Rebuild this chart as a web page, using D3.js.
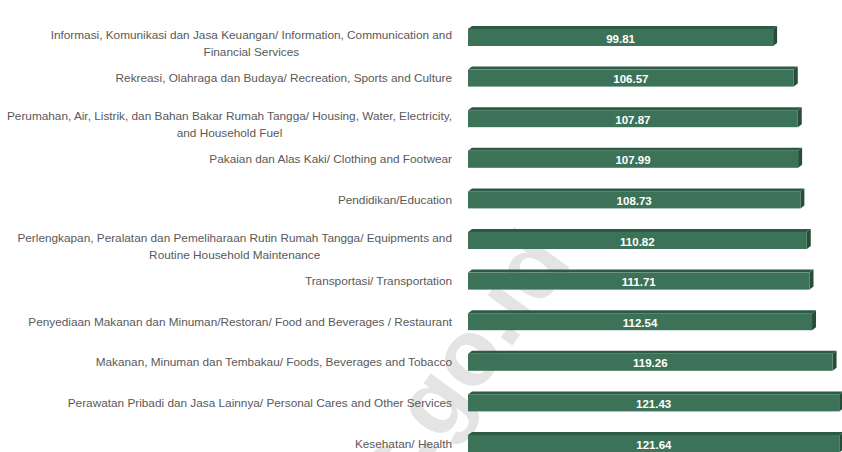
<!DOCTYPE html>
<html>
<head>
<meta charset="utf-8">
<script src="https://cdn.jsdelivr.net/npm/d3@7"></script>
<style>
  body { margin: 0; background: #fff; }
  svg { display: block; }
</style>
</head>
<body>
<div id="chart"></div>
<script>
// categories (line breaks as wrapped in the original chart)
const categories = [
  "Informasi, Komunikasi dan Jasa Keuangan/ Information, Communication and\nFinancial Services",
  "Rekreasi, Olahraga dan Budaya/ Recreation, Sports and Culture",
  "Perumahan, Air, Listrik, dan Bahan Bakar Rumah Tangga/ Housing, Water, Electricity,\nand Household Fuel",
  "Pakaian dan Alas Kaki/ Clothing and Footwear",
  "Pendidikan/Education",
  "Perlengkapan, Peralatan dan Pemeliharaan Rutin Rumah Tangga/ Equipments and\nRoutine Household Maintenance",
  "Transportasi/ Transportation",
  "Penyediaan Makanan dan Minuman/Restoran/ Food and Beverages / Restaurant",
  "Makanan, Minuman dan Tembakau/ Foods, Beverages and Tobacco",
  "Perawatan Pribadi dan Jasa Lainnya/ Personal Cares and Other Services",
  "Kesehatan/ Health"
];
const values = [99.81, 106.57, 107.87, 107.99, 108.73, 110.82, 111.71, 112.54, 119.26, 121.43, 121.64];
const watermark = "bps.go.id";

const width = 842, height = 452;
const barLeft = 468, labelRight = 452;
const barH = 17, depthX = 4, depthY = 3;

const svg = d3.select("#chart").append("svg")
    .attr("width", width)
    .attr("height", height);

const x = d3.scaleLinear().domain([0, 130]).range([barLeft, barLeft + 397.4]);
const y = d3.scalePoint().domain(categories).range([37.5, 443.5]);

// watermark behind the bars
svg.append("text")
    .attr("transform", "translate(424,412) rotate(-54)")
    .attr("text-anchor", "middle")
    .attr("dominant-baseline", "central")
    .style("font-family", "'Liberation Sans', Arial, sans-serif")
    .style("font-weight", "bold")
    .style("font-size", "94px")
    .style("fill", "#e4e4e4")
    .text(watermark);

const data = categories.map((c, i) => ({ cat: c, value: values[i] }));

const bars = svg.append("g").selectAll("g")
    .data(data)
    .enter().append("g");

// top face
bars.append("path")
    .attr("d", d => {
        const y0 = y(d.cat) - barH / 2, x0 = x(0), x1 = x(d.value);
        return `M${x0},${y0}L${x0 + depthX},${y0 - depthY}L${x1 + depthX},${y0 - depthY}L${x1},${y0}Z`;
    })
    .style("fill", "#2d5a44");

// side face
bars.append("path")
    .attr("d", d => {
        const y0 = y(d.cat) - barH / 2, y1 = y0 + barH, x1 = x(d.value);
        return `M${x1},${y0}L${x1 + depthX},${y0 - depthY}L${x1 + depthX},${y1 - depthY}L${x1},${y1}Z`;
    })
    .style("fill", "#274d3a");

// front face
bars.append("rect")
    .attr("x", x(0))
    .attr("y", d => y(d.cat) - barH / 2)
    .attr("width", d => x(d.value) - x(0))
    .attr("height", barH)
    .style("fill", "#3c7358");

// value labels
bars.append("text")
    .attr("x", d => (x(0) + x(d.value)) / 2)
    .attr("y", d => y(d.cat) + 1)
    .attr("text-anchor", "middle")
    .attr("dominant-baseline", "central")
    .style("font-family", "'Liberation Sans', Arial, sans-serif")
    .style("font-weight", "bold")
    .style("font-size", "11.5px")
    .style("fill", "#ffffff")
    .text(d => d.value.toFixed(2));

// category labels
const labels = svg.append("g")
    .style("font-family", "'Liberation Sans', Arial, sans-serif")
    .style("font-size", "11.8px")
    .style("fill", "#595959");

data.forEach(d => {
    const lines = d.cat.split("\n");
    const cy = y(d.cat);
    if (lines.length === 1) {
        labels.append("text")
            .attr("x", labelRight)
            .attr("y", cy)
            .attr("text-anchor", "end")
            .attr("dominant-baseline", "central")
            .text(lines[0]);
    } else {
        const first = labels.append("text")
            .attr("x", labelRight)
            .attr("y", cy - 3)
            .attr("text-anchor", "end")
            .attr("dominant-baseline", "central")
            .text(lines[0]);
        const w = first.node().getComputedTextLength();
        labels.append("text")
            .attr("x", labelRight - w / 2)
            .attr("y", cy + 14)
            .attr("text-anchor", "middle")
            .attr("dominant-baseline", "central")
            .text(lines[1]);
    }
});
</script>
</body>
</html>
